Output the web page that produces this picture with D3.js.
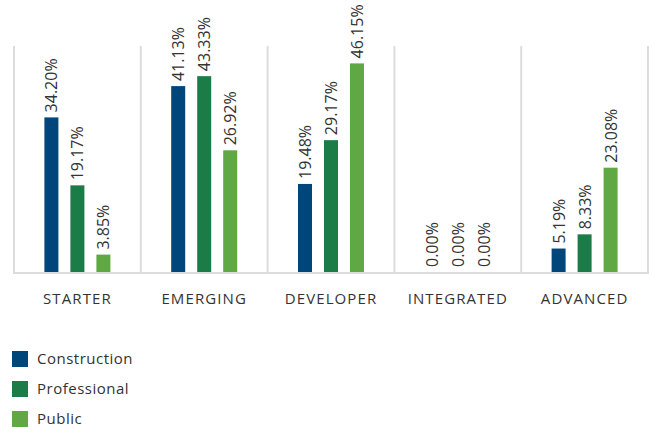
<!DOCTYPE html>
<html>
<head>
<meta charset="utf-8">
<script src="https://cdn.jsdelivr.net/npm/d3@7"></script>
<style>
  html, body { margin: 0; padding: 0; background: #fff; }
  svg { display: block; }
  text { font-family: "Open Sans", "Noto Sans", sans-serif; fill: #333; }
</style>
</head>
<body>
<svg id="chart" width="653" height="432"></svg>
<script>
// Maturity stages along the x axis
const categories = ["STARTER", "EMERGING", "DEVELOPER", "INTEGRATED", "ADVANCED"];
const seriesNames = ["Construction", "Professional", "Public"];
// Share of respondents (%) per stage
const construction = [34.20, 41.13, 19.48, 0.00, 5.19];
const professional = [19.17, 43.33, 29.17, 0.00, 8.33];
const publicSector = [3.85, 26.92, 46.15, 0.00, 23.08];
const yDomain = [0, 50];

const colors = { Construction: "#00467a", Professional: "#1c7c48", Public: "#5fa843" };
const seriesValues = { Construction: construction, Professional: professional, Public: publicSector };

const svg = d3.select("#chart");
const plot = { left: 14, right: 648, top: 46, bottom: 272 };

const x = d3.scaleBand().domain(categories).range([plot.left, plot.right]).padding(0);
const sub = d3.scaleBand().domain(seriesNames).range([-39, 39]).padding(0);
const barW = 14;
const y = d3.scaleLinear().domain(yDomain).range([plot.bottom, plot.top]);

// Vertical separators between stages
const edges = categories.map(c => x(c)).concat([plot.right]);
svg.append("g").selectAll("line").data(edges).join("line")
  .attr("x1", d => d).attr("x2", d => d)
  .attr("y1", plot.top).attr("y2", plot.bottom)
  .attr("stroke", "#dcdcdc").attr("stroke-width", 2);

// Baseline
svg.append("line")
  .attr("x1", plot.left - 1).attr("x2", plot.right + 1)
  .attr("y1", plot.bottom + 1).attr("y2", plot.bottom + 1)
  .attr("stroke", "#dcdcdc").attr("stroke-width", 2);

const rows = [];
categories.forEach((c, i) => {
  seriesNames.forEach(s => rows.push({ cat: c, series: s, value: seriesValues[s][i] }));
});

const cx = d => x(d.cat) + x.bandwidth() / 2 + sub(d.series) + sub.bandwidth() / 2;

svg.append("g").selectAll("rect").data(rows).join("rect")
  .attr("x", d => cx(d) - barW / 2)
  .attr("width", barW)
  .attr("y", d => y(d.value))
  .attr("height", d => y(0) - y(d.value))
  .attr("fill", d => colors[d.series]);

// Value labels, rotated
svg.append("g").selectAll("text").data(rows).join("text")
  .attr("transform", d => `translate(${cx(d) + 6},${y(d.value) - 5}) rotate(-90)`)
  .attr("font-size", 16)
  .text(d => d.value.toFixed(2) + "%");

// Category labels
svg.append("g").selectAll("text").data(categories).join("text")
  .attr("x", d => x(d) + x.bandwidth() / 2)
  .attr("y", 299)
  .attr("dy", "0.35em")
  .attr("text-anchor", "middle")
  .attr("font-size", 15)
  .attr("letter-spacing", 1.1)
  .text(d => d);

// Legend
const legend = svg.append("g").selectAll("g").data(seriesNames).join("g")
  .attr("transform", (d, i) => `translate(12,${359 + i * 30})`);
legend.append("rect").attr("x", 0).attr("y", -8).attr("width", 16).attr("height", 16)
  .attr("fill", d => colors[d]);
legend.append("text").attr("x", 25).attr("dy", "0.35em").attr("font-size", 15)
  .attr("letter-spacing", 0.5).text(d => d);
</script>
</body>
</html>
